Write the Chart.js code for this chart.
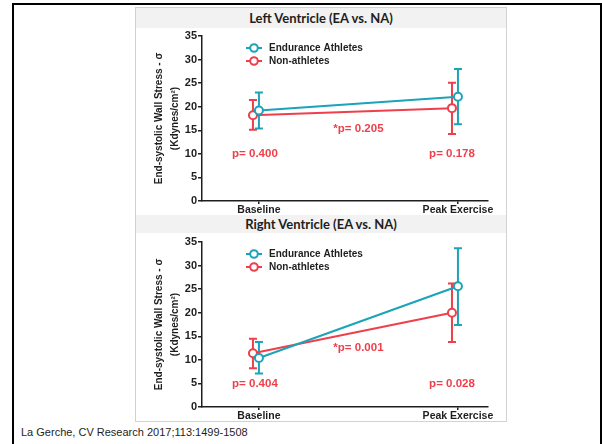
<!DOCTYPE html>
<html>
<head>
<meta charset="utf-8">
<script src="https://cdn.jsdelivr.net/npm/chart.js@4.4.0/dist/chart.umd.min.js"></script>
<style>
  html, body { margin:0; padding:0; background:#fff; }
  body { width:602px; height:444px; position:relative; overflow:hidden; font-family:"Liberation Sans", Arial, sans-serif; }
  .frame { position:absolute; left:12px; top:3px; width:586px; height:470px; border:2px solid #000; }
  .panel { position:absolute; left:135px; top:7px; width:372px; height:415px; box-sizing:border-box; border:1px solid #d2d2d2; }
  .head { position:absolute; left:136px; width:370px; background:#f2f2f2; text-align:center;
          font-family:Lato, "Open Sans", sans-serif; font-weight:700; font-size:13px; color:#1e1e1e; }
  .wrap { position:absolute; left:135px; width:372px; }
  .cite { position:absolute; left:21px; top:426px; font-size:11px; color:#1e1e1e; }
</style>
</head>
<body>
<div class="frame"></div>
<div class="panel"></div>
<div class="head" style="top:8px;height:20px;line-height:21px;">Left Ventricle (EA vs. NA)</div>
<div class="wrap" style="top:28px;height:186px;"><canvas id="lv" width="372" height="186"></canvas></div>
<div class="head" style="top:215px;height:18px;line-height:19px;">Right Ventricle (EA vs. NA)</div>
<div class="wrap" style="top:233px;height:188px;"><canvas id="rv" width="372" height="188"></canvas></div>
<div class="cite">La Gerche, CV Research 2017;113:1499-1508</div>
<script>
const categories = ['Baseline', 'Peak Exercise'];
const seriesNames = ['Endurance Athletes', 'Non-athletes'];
const yTitle = ['End-systolic Wall Stress - σ', '(Kdynes/cm²)'];

// left ventricle, mean and error bar ends
const lvEA = [19.2, 22.1];
const lvEAHigh = [23.0, 28.0];
const lvEALow = [15.4, 16.3];
const lvNA = [18.2, 19.7];
const lvNAHigh = [21.4, 25.1];
const lvNALow = [15.1, 14.2];
const lvP = ['p= 0.400', '*p= 0.205', 'p= 0.178'];

// right ventricle
const rvEA = [10.4, 25.6];
const rvEAHigh = [13.8, 33.7];
const rvEALow = [7.1, 17.4];
const rvNA = [11.4, 20.0];
const rvNAHigh = [14.5, 26.2];
const rvNALow = [8.2, 13.8];
const rvP = ['p= 0.404', '*p= 0.001', 'p= 0.028'];

const EA_COL = '#1ba3b8';
const NA_COL = '#ee3f4b';
const AX_COL = '#1e1e1e';
const BOLD = '"Liberation Sans", Arial, sans-serif';

const errorBars = {
  id:'errorBars',
  beforeDatasetsDraw(chart){
    const {ctx, scales:{x, y}} = chart;
    const sets = chart.data.datasets.slice().reverse();
    sets.forEach(ds => {
      ctx.save();
      ctx.strokeStyle = ds.borderColor; ctx.lineWidth = 2;
      ds.data.forEach((p, j) => {
        const px = x.getPixelForValue(p.x);
        const t = y.getPixelForValue(ds.high[j]), b = y.getPixelForValue(ds.low[j]);
        ctx.beginPath();
        ctx.moveTo(px, t); ctx.lineTo(px, b);
        ctx.moveTo(px-4, t); ctx.lineTo(px+4, t);
        ctx.moveTo(px-4, b); ctx.lineTo(px+4, b);
        ctx.stroke();
      });
      ctx.restore();
    });
  }
};

const legendBox = {
  id:'legendBox',
  afterDraw(chart){
    const {ctx, chartArea:a} = chart;
    chart.data.datasets.forEach((ds, i) => {
      const y = a.top + 12 + i*13, x = a.left + 44;
      ctx.save();
      ctx.strokeStyle = ds.borderColor; ctx.lineWidth = 2;
      ctx.beginPath(); ctx.moveTo(x, y); ctx.lineTo(x+16, y); ctx.stroke();
      ctx.fillStyle = '#fff';
      ctx.beginPath(); ctx.arc(x+8, y, 3.8, 0, Math.PI*2); ctx.fill(); ctx.stroke();
      ctx.fillStyle = AX_COL; ctx.font = 'bold 10px ' + BOLD;
      ctx.textBaseline = 'middle'; ctx.textAlign = 'left';
      ctx.fillText(ds.label, x+23, y+0.5);
      ctx.restore();
    });
  }
};

const pNotes = {
  id:'pNotes',
  afterDatasetsDraw(chart, args, opts){
    const {ctx, scales:{x, y}} = chart;
    ctx.save();
    ctx.fillStyle = NA_COL; ctx.font = 'bold 11.5px ' + BOLD;
    ctx.textAlign = 'center'; ctx.textBaseline = 'middle';
    opts.texts.forEach((t, i) => ctx.fillText(t, x.getPixelForValue(opts.at[i][0]), y.getPixelForValue(opts.at[i][1])));
    ctx.restore();
  }
};

function pts(vals, shift){ return vals.map((v, i) => ({x:i + shift, y:v})); }

function makeChart(id, ea, eaHi, eaLo, na, naHi, naLo, pTexts, pAt, padTop, xH){
  new Chart(document.getElementById(id), {
    type:'line',
    data:{ datasets:[
      {label:seriesNames[0], data:pts(ea, 0), high:eaHi, low:eaLo, borderColor:EA_COL, backgroundColor:'#fff',
       borderWidth:2, pointRadius:4, pointBorderWidth:2, pointBackgroundColor:'#fff', tension:0},
      {label:seriesNames[1], data:pts(na, -0.03), high:naHi, low:naLo, borderColor:NA_COL, backgroundColor:'#fff',
       borderWidth:2, pointRadius:4, pointBorderWidth:2, pointBackgroundColor:'#fff', tension:0}
    ]},
    options:{
      responsive:false, animation:false, devicePixelRatio:1,
      layout:{ padding:{ top:padTop, right:19, left:0, bottom:0 } },
      plugins:{ legend:{display:false}, tooltip:{enabled:false}, pNotes:{texts:pTexts, at:pAt} },
      scales:{
        x:{ type:'linear', min:-0.286, max:1.151,
            afterBuildTicks:s => { s.ticks = [{value:0}, {value:1}]; },
            afterFit:s => { s.height = xH; },
            ticks:{ callback:v => categories[v], color:AX_COL, font:{family:BOLD, size:10.5, weight:'bold'}, padding:0, autoSkip:false, maxRotation:0 },
            grid:{ drawOnChartArea:false, drawTicks:true, tickLength:3, color:AX_COL, lineWidth:1.5 },
            border:{ color:AX_COL, width:1.5 } },
        y:{ min:0, max:35,
            afterFit:s => { s.width = 67; },
            ticks:{ stepSize:5, color:AX_COL, font:{family:BOLD, size:11, weight:'bold'}, padding:1 },
            grid:{ drawOnChartArea:false, drawTicks:true, tickLength:4, color:AX_COL, lineWidth:1.5 },
            border:{ color:AX_COL, width:1.5 },
            title:{ display:true, text:yTitle, color:AX_COL, font:{family:BOLD, size:10, weight:'bold', lineHeight:1.6}, padding:{top:16, bottom:0} } }
      }
    },
    plugins:[errorBars, legendBox, pNotes]
  });
}

makeChart('lv', lvEA, lvEAHigh, lvEALow, lvNA, lvNAHigh, lvNALow, lvP,
  [[-0.02, 10.0], [0.5, 15.3], [0.97, 10.0]], 8, 13);
makeChart('rv', rvEA, rvEAHigh, rvEALow, rvNA, rvNAHigh, rvNALow, rvP,
  [[-0.02, 4.9], [0.5, 12.5], [0.97, 4.9]], 9, 14);
</script>
</body>
</html>
